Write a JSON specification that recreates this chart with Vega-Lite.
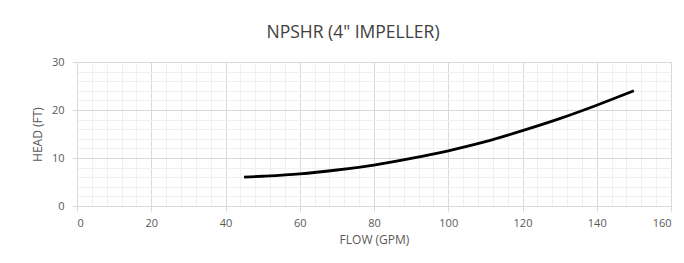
{
  "$schema": "https://vega.github.io/schema/vega-lite/v6.json",
  "width": 594,
  "height": 144,
  "autosize": {"type": "none"},
  "padding": {"left": 77, "top": 62, "right": 13, "bottom": 57},
  "background": "white",
  "title": {
    "text": "NPSHR (4\" IMPELLER)",
    "font": "Open Sans",
    "fontSize": 17.5,
    "fontWeight": "normal",
    "color": "#404040",
    "anchor": "middle",
    "dx": -21,
    "offset": 15
  },
  "config": {
    "view": {"stroke": null},
    "axis": {
      "labelFont": "Open Sans",
      "titleFont": "Open Sans",
      "labelFontSize": 11,
      "titleFontSize": 12,
      "titleFontWeight": "normal",
      "labelColor": "#595959",
      "titleColor": "#595959",
      "domainColor": "#d9d9d9"
    }
  },
  "data": {
    "values": [
      {"flow": 45, "head": 6.0},
      {"flow": 50, "head": 6.2},
      {"flow": 60, "head": 6.7},
      {"flow": 70, "head": 7.5},
      {"flow": 80, "head": 8.5},
      {"flow": 90, "head": 9.9},
      {"flow": 100, "head": 11.5},
      {"flow": 110, "head": 13.4},
      {"flow": 120, "head": 15.7},
      {"flow": 130, "head": 18.2},
      {"flow": 140, "head": 21.0},
      {"flow": 150, "head": 24.0}
    ]
  },
  "mark": {"type": "line", "color": "#000000", "strokeWidth": 2.8, "interpolate": "monotone"},
  "encoding": {
    "x": {
      "field": "flow",
      "type": "quantitative",
      "scale": {"domain": [0, 160], "nice": false},
      "axis": {
        "title": "FLOW (GPM)",
        "values": [0,4,8,12,16,20,24,28,32,36,40,44,48,52,56,60,64,68,72,76,80,84,88,92,96,100,104,108,112,116,120,124,128,132,136,140,144,148,152,156,160],
        "labelExpr": "datum.value % 20 === 0 ? datum.label : ''",
        "grid": true,
        "gridColor": {"condition": {"test": "datum.value % 20 === 0", "value": "#d9d9d9"}, "value": "#f0f0f0"},
        "tickColor": {"condition": {"test": "datum.value % 20 === 0", "value": "#d9d9d9"}, "value": "rgba(0,0,0,0)"},
        "tickSize": 5,
        "labelPadding": 6,
        "titlePadding": 6
      }
    },
    "y": {
      "field": "head",
      "type": "quantitative",
      "scale": {"domain": [0, 30], "nice": false},
      "axis": {
        "title": "HEAD (FT)",
        "values": [0,2,4,6,8,10,12,14,16,18,20,22,24,26,28,30],
        "labelExpr": "datum.value % 10 === 0 ? datum.label : ''",
        "grid": true,
        "gridColor": {"condition": {"test": "datum.value % 10 === 0", "value": "#d9d9d9"}, "value": "#f0f0f0"},
        "tickColor": {"condition": {"test": "datum.value % 10 === 0", "value": "#d9d9d9"}, "value": "rgba(0,0,0,0)"},
        "tickSize": 5,
        "labelPadding": 8,
        "titlePadding": 7
      }
    }
  }
}
